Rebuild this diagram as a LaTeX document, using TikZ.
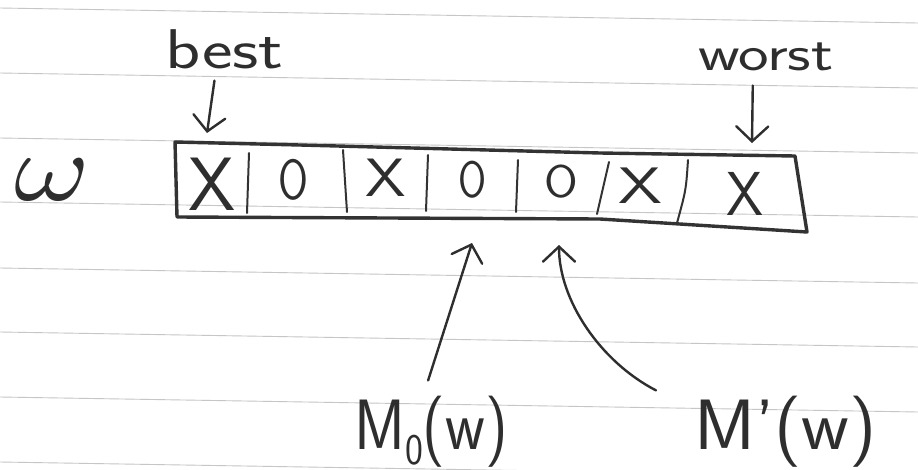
\documentclass[tikz,border=0pt]{standalone}
\usetikzlibrary{arrows.meta}
\begin{document}
\begin{tikzpicture}[x=1pt,y=-1pt,
  rule/.style={draw=gray!45, line width=0.9pt},
  pen/.style={draw=black!82, line width=2.4pt, line cap=round, line join=round},
  boxpen/.style={draw=black!80, line width=3.4pt, line cap=round, line join=round},
  divider/.style={draw=black!80, line width=2pt, line cap=round},
  arr/.style={pen, -{Straight Barb[length=15pt,width=32pt,line cap=round]}},
  cellmark/.style={inner sep=0pt, text=black!82, font=\sffamily\fontsize{54}{54}\selectfont},
  lbl/.style={inner sep=0pt, text=black!82, font=\sffamily\fontsize{56}{56}\selectfont},
  mlbl/.style={inner sep=0pt, text=black!82, font=\sffamily\fontsize{62}{62}\selectfont}]

\fill[white] (0,0) rectangle (918,469);
\useasboundingbox (0,0) rectangle (918,469);

% ruled paper
\foreach \y in {8,73,138,202,268,332,397,462}
  \draw[rule] (0,\y) -- (918,\y+15);

% the array w
\draw[boxpen] (175,142) -- (300,145) -- (600,153) -- (795,156) -- (807,232)
  -- (600,219) -- (177,217) -- cycle;
\draw[divider] (249,153) -- (247,213);
\draw[divider] (343,150) -- (347,212);
\draw[divider] (428,155) -- (426,211);
\draw[divider] (518,160) -- (516,212);
\draw[divider] (609,162) -- (597,214);
\draw[divider] (688,160) .. controls (686,190) .. (677,223);

% cell marks
\node[cellmark] (c1) at (212,184) {\scalebox{1.4}{X}};
\node[cellmark] (c2) at (293,180) {\scalebox{0.8}[1.05]{O}};
\node[cellmark] (c3) at (386,178) {\scalebox{1.2}[1]{X}};
\node[cellmark] (c4) at (473,180) {\scalebox{0.75}[0.95]{O}};
\node[cellmark] (c5) at (561,182) {\scalebox{0.9}[0.85]{O}};
\node[cellmark] (c6) at (640,186) {\scalebox{1.3}[0.95]{X}};
\node[cellmark] (c7) at (745,194) {\scalebox{1.1}[1.15]{X}};

% labels
\node[inner sep=0pt, text=black!82] (om) at (52,180)
  {\scalebox{11.5}[9.6]{$\omega$}};
\node[lbl, anchor=base west] (best) at (165,68) {\scalebox{1.3}[1]{best}};
\node[lbl, anchor=base west, font=\sffamily\fontsize{50}{50}\selectfont] (worst) at (698,70) {\scalebox{1.3}[1]{worst}};
\node[mlbl, anchor=base west] (m0) at (354,449)
  {\scalebox{1}[1.15]{M\raisebox{-0.22em}{\fontsize{38}{38}\selectfont 0}(w)}};
\node[mlbl, anchor=base west] (m1) at (694,449) {\scalebox{1.2}[1.15]{M’(w)}};

% arrow tips
\coordinate (tbest) at (207,133);
\coordinate (tworst) at (752,143);
\coordinate (tm0) at (472,243);
\coordinate (tm1) at (559,245);

% arrows
\draw[arr] ([xshift=-10pt,yshift=-12pt]best.south) -- (tbest);
\draw[arr] ([xshift=-13pt,yshift=-15pt]worst.south) -- (tworst);
\draw[arr] ([xshift=-3pt,yshift=15pt]m0.north) -- (tm0);
\draw[arr] ([xshift=-38pt,yshift=5pt]m1.north west) .. controls +(-56pt,29pt) and +(0pt,-55pt) .. (tm1);

\end{tikzpicture}
\end{document}
